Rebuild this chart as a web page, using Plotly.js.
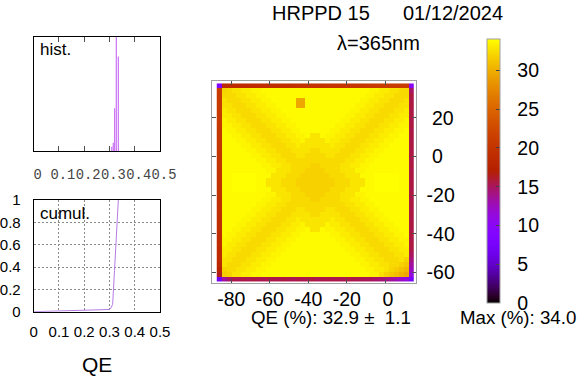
<!DOCTYPE html>
<html>
<head>
<meta charset="utf-8">
<script src="https://cdn.plot.ly/plotly-3.0.1.min.js"></script>
<style>
  html, body { margin: 0; padding: 0; background: #fff; }
  #chart { width: 587px; height: 376px; }
</style>
</head>
<body>
<div id="chart"></div>
<script>
// QE map of the photocathode (%), 40 x 40 pads, listed top row first.
const qeRows = [
  [9.0,18.6,18.6,18.7,18.8,18.8,18.9,19.0,19.0,19.1,19.2,19.2,19.3,19.4,19.4,19.5,19.6,19.6,19.7,19.8,19.8,19.9,20.0,20.0,20.1,20.2,20.2,20.3,20.4,20.4,20.5,20.6,20.6,20.7,20.8,20.8,20.9,21.0,21.0,10.0],
  [21.0,32.0,32.2,32.7,32.7,33.2,33.2,33.5,33.5,33.8,33.8,33.8,33.8,33.8,33.8,33.8,33.8,33.8,33.8,33.8,33.8,33.8,33.8,33.8,33.8,33.8,33.8,33.8,33.8,33.8,33.8,33.5,33.5,33.2,33.2,32.7,32.7,32.2,32.2,14.8],
  [20.9,32.2,32.2,32.2,32.7,32.7,33.2,33.2,33.5,33.5,33.8,33.8,33.8,33.8,33.8,33.8,33.8,33.8,33.8,33.8,33.8,33.8,33.8,33.8,33.8,33.8,33.8,33.8,33.8,33.8,33.5,33.5,33.2,33.2,32.7,32.7,32.2,32.2,32.2,15.6],
  [20.8,32.7,32.2,32.2,32.2,32.7,32.7,33.2,33.2,33.5,33.5,33.8,33.8,33.8,33.8,33.8,29.5,29.5,33.8,33.8,33.8,33.8,33.8,33.8,33.8,33.8,33.8,33.8,33.8,33.5,33.5,33.2,33.2,32.7,32.7,32.2,32.2,32.2,32.7,15.4],
  [20.8,32.7,32.7,32.2,32.2,32.2,32.7,32.7,33.2,33.2,33.5,33.5,33.8,33.8,33.8,33.8,29.5,29.5,33.8,33.8,33.8,33.8,33.8,33.8,33.8,33.8,33.8,33.8,33.5,33.5,33.2,33.2,32.7,32.7,32.2,32.2,32.2,32.7,32.7,15.6],
  [20.7,33.2,32.7,32.7,32.2,32.2,32.2,32.7,32.7,33.2,33.2,33.5,33.5,33.8,33.8,33.8,33.8,33.8,33.8,33.8,33.8,33.8,33.8,33.8,33.8,33.8,33.8,33.5,33.5,33.2,33.2,32.7,32.7,32.2,32.2,32.2,32.7,32.7,33.2,15.4],
  [20.6,33.2,33.2,32.7,32.7,32.2,32.2,32.2,32.7,32.7,33.2,33.2,33.5,33.5,33.8,33.8,33.8,33.8,33.8,33.8,33.8,33.8,33.8,33.8,33.8,33.8,33.5,33.5,33.2,33.2,32.7,32.7,32.2,32.2,32.2,32.7,32.7,33.2,33.2,15.6],
  [20.6,33.5,33.2,33.2,32.7,32.7,32.2,32.2,32.2,32.7,32.7,33.2,33.2,33.5,33.5,33.8,33.8,33.8,33.8,33.8,33.8,33.8,33.8,33.8,33.8,33.5,33.5,33.2,33.2,32.7,32.7,32.2,32.2,32.2,32.7,32.7,33.2,33.2,33.5,15.4],
  [20.5,33.5,33.5,33.2,33.2,32.7,32.7,32.2,32.2,32.2,32.7,32.7,33.2,33.2,33.5,33.5,33.8,33.8,33.8,33.8,33.8,33.8,33.8,33.8,33.5,33.5,33.2,33.2,32.7,32.7,32.2,32.2,32.2,32.7,32.7,33.2,33.2,33.5,33.5,15.6],
  [20.4,33.8,33.5,33.5,33.2,33.2,32.7,32.7,32.2,32.2,32.2,32.7,32.7,33.2,33.2,33.5,33.5,33.8,33.8,33.8,33.8,33.8,33.8,33.5,33.5,33.2,33.2,32.7,32.7,32.2,32.2,32.2,32.7,32.7,33.2,33.2,33.5,33.5,33.8,15.4],
  [20.4,33.8,33.8,33.5,33.5,33.2,33.2,32.7,32.7,32.2,32.2,32.2,32.7,32.7,33.2,33.2,33.5,33.5,33.8,32.8,32.8,33.8,33.5,33.5,33.2,33.2,32.7,32.7,32.2,32.2,32.2,32.7,32.7,33.2,33.2,33.5,33.5,33.8,33.8,15.6],
  [20.3,33.8,33.8,33.8,33.5,33.5,33.2,33.2,32.7,32.7,32.2,32.2,32.2,32.7,32.7,33.2,33.2,33.5,32.8,32.8,32.8,32.8,33.5,33.2,33.2,32.7,32.7,32.2,32.2,32.2,32.7,32.7,33.2,33.2,33.5,33.5,33.8,33.8,33.8,15.4],
  [20.2,33.8,33.8,33.8,33.8,33.5,33.5,33.2,33.2,32.7,32.7,32.2,32.2,32.2,32.7,32.7,33.2,32.8,32.8,32.8,32.8,32.8,32.8,33.2,32.7,32.7,32.2,32.2,32.2,32.7,32.7,33.2,33.2,33.5,33.5,33.8,33.8,33.8,33.8,15.6],
  [20.2,33.8,33.8,33.8,33.8,33.8,33.5,33.5,33.2,33.2,32.7,32.7,32.2,32.2,32.2,32.7,32.7,32.8,32.8,32.2,32.2,32.8,32.8,32.7,32.7,32.2,32.2,32.2,32.7,32.7,33.2,33.2,33.5,33.5,33.8,33.8,33.8,33.8,33.8,15.4],
  [20.1,33.8,33.8,33.8,33.8,33.8,33.8,33.5,33.5,33.2,33.2,32.7,32.7,32.2,32.2,32.2,32.7,32.7,32.2,32.2,32.2,32.2,32.7,32.7,32.2,32.2,32.2,32.7,32.7,33.2,33.2,33.5,33.5,33.8,33.8,33.8,33.8,33.8,33.8,15.6],
  [20.0,33.8,33.8,33.8,33.8,33.8,33.8,33.8,33.5,33.5,33.2,33.2,32.7,32.7,32.2,32.2,32.2,32.2,32.2,32.2,32.2,32.2,32.2,32.2,32.2,32.2,32.7,32.7,33.2,33.2,33.5,33.5,33.8,33.8,33.8,33.8,33.8,33.8,33.8,15.4],
  [20.0,33.8,33.8,33.8,33.8,33.8,33.8,33.8,33.8,33.5,33.5,33.2,33.2,32.7,32.7,32.2,32.2,32.2,32.2,31.8,31.8,32.2,32.2,32.2,32.2,32.7,32.7,33.2,33.2,33.5,33.5,33.8,33.8,33.8,33.8,33.8,33.8,33.8,33.8,15.6],
  [19.9,33.8,33.8,33.8,33.8,33.8,33.8,33.8,33.8,33.8,33.5,33.5,32.8,32.8,32.7,32.2,32.2,32.2,31.8,31.8,31.8,31.8,32.2,32.2,32.2,32.7,32.8,32.8,33.5,33.5,33.8,33.8,33.8,33.8,33.8,33.8,33.8,33.8,33.8,15.4],
  [19.8,33.8,33.8,34.0,34.0,34.0,34.0,34.0,33.8,33.8,33.8,32.8,32.8,32.8,32.2,32.2,32.2,31.8,31.8,31.8,31.8,31.8,31.8,32.2,32.2,32.2,32.8,32.8,32.8,33.8,33.8,33.8,34.0,34.0,34.0,34.0,34.0,33.8,33.8,15.6],
  [19.8,33.8,33.8,34.0,34.0,34.0,34.0,34.0,33.8,33.8,32.8,32.8,32.8,32.2,32.2,32.2,31.8,31.8,31.8,31.8,31.8,31.8,31.8,31.8,32.2,32.2,32.2,32.8,32.8,32.8,33.8,33.8,34.0,34.0,34.0,34.0,34.0,33.8,33.8,15.4],
  [19.7,33.8,33.8,34.0,34.0,34.0,34.0,34.0,33.8,33.8,32.8,32.8,32.8,32.2,32.2,32.2,31.8,31.8,31.8,31.8,31.8,31.8,31.8,31.8,32.2,32.2,32.2,32.8,32.8,32.8,33.8,33.8,34.0,34.0,34.0,34.0,34.0,33.8,33.8,15.6],
  [19.6,33.8,33.8,34.0,34.0,34.0,34.0,34.0,33.8,33.8,33.8,32.8,32.8,32.8,32.2,32.2,32.2,31.8,31.8,31.8,31.8,31.8,31.8,32.2,32.2,32.2,32.8,32.8,32.8,33.8,33.8,33.8,34.0,34.0,34.0,34.0,34.0,33.8,33.8,15.4],
  [19.6,33.8,33.8,33.8,33.8,33.8,33.8,33.8,33.8,33.8,33.5,33.5,32.8,32.8,32.7,32.2,32.2,32.2,31.8,31.8,31.8,31.8,32.2,32.2,32.2,32.7,32.8,32.8,33.5,33.5,33.8,33.8,33.8,33.8,33.8,33.8,33.8,33.8,33.8,15.6],
  [19.5,33.8,33.8,33.8,33.8,33.8,33.8,33.8,33.8,33.5,33.5,33.2,33.2,32.7,32.7,32.2,32.2,32.2,32.2,31.8,31.8,32.2,32.2,32.2,32.2,32.7,32.7,33.2,33.2,33.5,33.5,33.8,33.8,33.8,33.8,33.8,33.8,33.8,33.8,15.4],
  [19.4,33.8,33.8,33.8,33.8,33.8,33.8,33.8,33.5,33.5,33.2,33.2,32.7,32.7,32.2,32.2,32.2,32.2,32.2,32.2,32.2,32.2,32.2,32.2,32.2,32.2,32.7,32.7,33.2,33.2,33.5,33.5,33.8,33.8,33.8,33.8,33.8,33.8,33.8,15.6],
  [19.4,33.8,33.8,33.8,33.8,33.8,33.8,33.5,33.5,33.2,33.2,32.7,32.7,32.2,32.2,32.2,32.7,32.7,32.2,32.2,32.2,32.2,32.7,32.7,32.2,32.2,32.2,32.7,32.7,33.2,33.2,33.5,33.5,33.8,33.8,33.8,33.8,33.8,33.8,15.4],
  [19.3,33.8,33.8,33.8,33.8,33.8,33.5,33.5,33.2,33.2,32.7,32.7,32.2,32.2,32.2,32.7,32.7,32.8,32.8,32.2,32.2,32.8,32.8,32.7,32.7,32.2,32.2,32.2,32.7,32.7,33.2,33.2,33.5,33.5,33.8,33.8,33.8,33.8,33.8,15.6],
  [19.2,33.8,33.8,33.8,33.8,33.5,33.5,33.2,33.2,32.7,32.7,32.2,32.2,32.2,32.7,32.7,33.2,32.8,32.8,32.8,32.8,32.8,32.8,33.2,32.7,32.7,32.2,32.2,32.2,32.7,32.7,33.2,33.2,33.5,33.5,33.8,33.8,33.8,33.8,15.4],
  [19.2,33.8,33.8,33.8,33.5,33.5,33.2,33.2,32.7,32.7,32.2,32.2,32.2,32.7,32.7,33.2,33.2,33.5,32.8,32.8,32.8,32.8,33.5,33.2,33.2,32.7,32.7,32.2,32.2,32.2,32.7,32.7,33.2,33.2,33.5,33.5,33.8,33.8,33.8,15.6],
  [19.1,33.8,33.8,33.5,33.5,33.2,33.2,32.7,32.7,32.2,32.2,32.2,32.7,32.7,33.2,33.2,33.5,33.5,33.8,32.8,32.8,33.8,33.5,33.5,33.2,33.2,32.7,32.7,32.2,32.2,32.2,32.7,32.7,33.2,33.2,33.5,33.5,33.8,33.8,15.4],
  [19.0,33.8,33.5,33.5,33.2,33.2,32.7,32.7,32.2,32.2,32.2,32.7,32.7,33.2,33.2,33.5,33.5,33.8,33.8,33.8,33.8,33.8,33.8,33.5,33.5,33.2,33.2,32.7,32.7,32.2,32.2,32.2,32.7,32.7,33.2,33.2,33.5,33.5,33.8,15.6],
  [19.0,33.5,33.5,33.2,33.2,32.7,32.7,32.2,32.2,32.2,32.7,32.7,33.2,33.2,33.5,33.5,33.8,33.8,33.8,33.8,33.8,33.8,33.8,33.8,33.5,33.5,33.2,33.2,32.7,32.7,32.2,32.2,32.2,32.7,32.7,33.2,33.2,33.5,33.5,15.4],
  [18.9,33.5,33.2,33.2,32.7,32.7,32.2,32.2,32.2,32.7,32.7,33.2,33.2,33.5,33.5,33.8,33.8,33.8,33.8,33.8,33.8,33.8,33.8,33.8,33.8,33.5,33.5,33.2,33.2,32.7,32.7,32.2,32.2,32.2,32.7,32.7,33.2,33.2,33.5,15.6],
  [18.8,33.2,33.2,32.7,32.7,32.2,32.2,32.2,32.7,32.7,33.2,33.2,33.5,33.5,33.8,33.8,33.8,33.8,33.8,33.8,33.8,33.8,33.8,33.8,33.8,33.8,33.5,33.5,33.2,33.2,32.7,32.7,32.2,32.2,32.2,32.7,32.7,33.2,33.2,15.4],
  [18.8,33.2,32.7,32.7,32.2,32.2,32.2,32.7,32.7,33.2,33.2,33.5,33.5,33.8,33.8,33.8,33.8,33.8,33.8,33.8,33.8,33.8,33.8,33.8,33.8,33.8,33.8,33.5,33.5,33.2,33.2,32.7,32.7,32.2,32.2,32.2,32.7,32.7,33.2,15.0],
  [18.6,32.7,32.7,32.2,32.2,32.2,32.7,32.7,33.2,33.2,33.5,33.5,33.8,33.8,33.8,33.8,33.8,33.8,33.8,33.8,33.8,33.8,33.8,33.8,33.8,33.8,33.8,33.8,33.5,33.5,33.2,33.2,32.7,32.7,32.2,32.2,32.2,32.7,32.0,14.3],
  [18.3,32.7,32.2,32.2,32.2,32.7,32.7,33.2,33.2,33.5,33.5,33.8,33.8,33.8,33.8,33.8,33.8,33.8,33.8,33.8,33.8,33.8,33.8,33.8,33.8,33.8,33.8,33.8,33.8,33.5,33.5,33.2,33.2,32.7,32.7,32.2,32.2,31.8,31.4,13.4],
  [17.6,31.9,32.2,32.2,32.7,32.7,33.2,33.2,33.5,33.5,33.8,33.8,33.8,33.8,33.8,33.8,33.8,33.8,33.8,33.8,33.8,33.8,33.8,33.8,33.8,33.8,33.8,33.8,33.8,33.8,33.5,33.5,33.2,33.2,32.7,32.0,31.6,31.0,30.5,12.4],
  [16.5,31.6,31.9,32.7,32.7,33.2,33.2,33.5,33.5,33.8,33.8,33.8,33.8,33.8,33.8,33.8,33.8,33.8,33.8,33.8,33.8,33.8,33.8,33.8,33.8,33.8,33.8,33.8,33.8,33.8,33.8,33.5,33.5,32.6,31.8,31.3,30.8,30.2,29.6,11.4],
  [7.0,13.4,14.8,15.4,15.2,15.5,15.3,15.6,15.4,15.2,15.5,15.4,15.3,15.6,15.4,15.2,15.5,15.3,15.4,15.6,15.2,15.4,15.5,15.3,15.4,15.2,15.5,15.4,15.3,15.2,15.1,15.0,14.7,14.4,14.0,13.5,12.8,12.0,11.2,7.5]
];

// Histogram of the pad QE (fraction)
const histQE    = [0.309, 0.315, 0.3205, 0.327, 0.335];
const histCount = [15, 29, 150, 520, 332];

// Cumulative distribution of the pad QE
const cumQE   = [0, 0.1, 0.2, 0.3, 0.305, 0.3125, 0.32, 0.325, 0.33, 0.335];
const cumFrac = [0, 0.006, 0.013, 0.02, 0.03, 0.066, 0.37, 0.58, 0.79, 1.0];

// Tick labels
const mapXTicks = [-80, -60, -40, -20, 0];
const mapXText  = ['-80', '-60', '-40', '-20', '\u00a00'];
const mapYTicks = [-60, -40, -20, 0, 20];
const mapYText  = ['-60', '-40', '-20', '\u00a00', '\u00a020'];
const cbTicks   = [0, 5, 10, 15, 20, 25, 30];
const qeTicks   = [0, 0.1, 0.2, 0.3, 0.4, 0.5];
const histTickText = ['0', '0.1', '0.2', '0.3', '0.4', '0.5'];
const fracTicks = [0, 0.2, 0.4, 0.6, 0.8, 1];

const W = 587, H = 376;
const fx = v => v / W;
const fy = v => 1 - v / H;
const SANS = 'Liberation Sans, Arial, sans-serif';
const MONO = 'Liberation Mono, Courier New, monospace';

// gnuplot default pm3d palette (rgbformulae 7,5,15)
function gnuplotPalette(n) {
  const cs = [];
  for (let i = 0; i <= n; i++) {
    const t = i / n;
    const r = Math.sqrt(t), g = t * t * t, b = Math.max(0, Math.sin(2 * Math.PI * t));
    cs.push([t, 'rgb(' + Math.round(255 * r) + ',' + Math.round(255 * g) + ',' + Math.round(255 * b) + ')']);
  }
  return cs;
}

const mapZ = qeRows.slice().reverse();

const traces = [
  {
    type: 'bar', x: histQE, y: histCount, width: 0.0045,
    marker: { color: '#c86cf5', line: { width: 0 } },
    xaxis: 'x', yaxis: 'y', hoverinfo: 'skip'
  },
  {
    type: 'scatter', mode: 'lines', x: cumQE, y: cumFrac,
    line: { color: '#b47ce6', width: 1 },
    xaxis: 'x2', yaxis: 'y2', hoverinfo: 'skip'
  },
  {
    type: 'heatmap', z: mapZ, x0: -86.3, dx: 2.56, y0: -63.45, dy: 2.56,
    zmin: 0, zmax: 34.0, zsmooth: false,
    colorscale: gnuplotPalette(64),
    xaxis: 'x3', yaxis: 'y3', hoverinfo: 'skip',
    colorbar: {
      x: fx(486.7), xanchor: 'left', xpad: 0, ypad: 0,
      y: fy(171.15), yanchor: 'middle', len: 263.7 / H, lenmode: 'fraction',
      thickness: 12.6, thicknessmode: 'pixels',
      outlinewidth: 1, outlinecolor: '#a0a0a0',
      tickmode: 'array', tickvals: cbTicks,
      // labels sit a little away from the bar, as in gnuplot's cbtics
      ticktext: cbTicks.map(v => '\u00a0\u00a0\u200a' + v),
      ticks: 'inside', ticklen: 4, tickcolor: '#404040', tickwidth: 1,
      tickfont: { family: SANS, size: 19.5, color: '#000' }
    }
  }
];

const frameAxis = {
  showline: true, mirror: 'ticks', linewidth: 1, zeroline: false, showgrid: false,
  fixedrange: true
};

const layout = {
  width: W, height: H,
  margin: { l: 0, r: 0, t: 0, b: 0 },
  paper_bgcolor: '#fff', plot_bgcolor: '#fff',
  showlegend: false,
  font: { family: SANS, color: '#000' },
  xaxis: Object.assign({}, frameAxis, {
    domain: [fx(33.7), fx(160)], range: [0, 0.5], anchor: 'y',
    linecolor: '#000', tickmode: 'array', tickvals: qeTicks, ticktext: histTickText,
    ticks: 'inside', ticklen: 5, tickcolor: '#505050', tickangle: 0,
    tickfont: { family: MONO, size: 13.8, color: '#444' },
    ticklabelshift: 4, ticklabelstandoff: 10
  }),
  yaxis: Object.assign({}, frameAxis, {
    domain: [fy(151), fy(37)], range: [0, 400], anchor: 'x',
    linecolor: '#000', ticks: '', showticklabels: false
  }),
  xaxis2: Object.assign({}, frameAxis, {
    domain: [fx(33.7), fx(160)], range: [0, 0.5], anchor: 'y2',
    linecolor: '#000', tickmode: 'array', tickvals: qeTicks, ticks: '', tickangle: 0,
    showgrid: true, gridcolor: '#8a8a8a', griddash: '2px,2px', gridwidth: 1,
    tickfont: { family: SANS, size: 15, color: '#000' }, ticklabelstandoff: 6
  }),
  yaxis2: Object.assign({}, frameAxis, {
    domain: [fy(311.7), fy(200)], range: [0, 1], anchor: 'x2',
    linecolor: '#000', tickmode: 'array', tickvals: fracTicks, ticks: '',
    showgrid: true, gridcolor: '#8a8a8a', griddash: '2px,2px', gridwidth: 1,
    tickfont: { family: SANS, size: 15, color: '#000' }, ticklabelstandoff: 9
  }),
  xaxis3: Object.assign({}, frameAxis, {
    domain: [fx(212.3), fx(415.7)], range: [-89.9, 15.8], anchor: 'y3',
    linecolor: '#a0a0a0', tickmode: 'array', tickvals: mapXTicks, ticktext: mapXText,
    ticks: 'inside', ticklen: 4, tickcolor: '#505050', tickangle: 0,
    tickfont: { family: SANS, size: 19.5, color: '#000' }, ticklabelstandoff: -2
  }),
  yaxis3: Object.assign({}, frameAxis, {
    domain: [fy(283.3), fy(80.7)], range: [-65.5, 39.1], anchor: 'x3', side: 'right',
    linecolor: '#a0a0a0', tickmode: 'array', tickvals: mapYTicks, ticktext: mapYText,
    ticks: 'inside', ticklen: 4, tickcolor: '#505050',
    tickfont: { family: SANS, size: 19.5, color: '#000' }, ticklabelstandoff: 6
  }),
  annotations: [
    { text: 'HRPPD 15', x: fx(269.5), y: fy(13.3) },
    { text: '01/12/2024', x: fx(400.5), y: fy(13.3) },
    { text: 'λ=365nm', x: fx(334.5), y: fy(43.3) },
    { text: 'QE (%): 32.9 ±\u00a0\u00a01.1', x: fx(248.5), y: fy(317.5), size: 18.7 },
    { text: 'Max (%): 34.0', x: fx(457.5), y: fy(317.5), size: 18.7 },
    { text: 'hist.', x: fx(37.5), y: fy(49.3), size: 17 },
    { text: 'cumul.', x: fx(37.5), y: fy(213.3), size: 17 },
    { text: 'QE', x: fx(96.7), y: fy(364), size: 21, xanchor: 'center' }
  ].map(a => ({
    text: a.text, x: a.x, y: a.y, xref: 'paper', yref: 'paper',
    xanchor: a.xanchor || 'left', yanchor: 'middle', showarrow: false,
    font: { family: SANS, size: a.size || 20, color: '#000' }
  }))
};

Plotly.newPlot('chart', traces, layout, { staticPlot: true, displayModeBar: false });
</script>
</body>
</html>
